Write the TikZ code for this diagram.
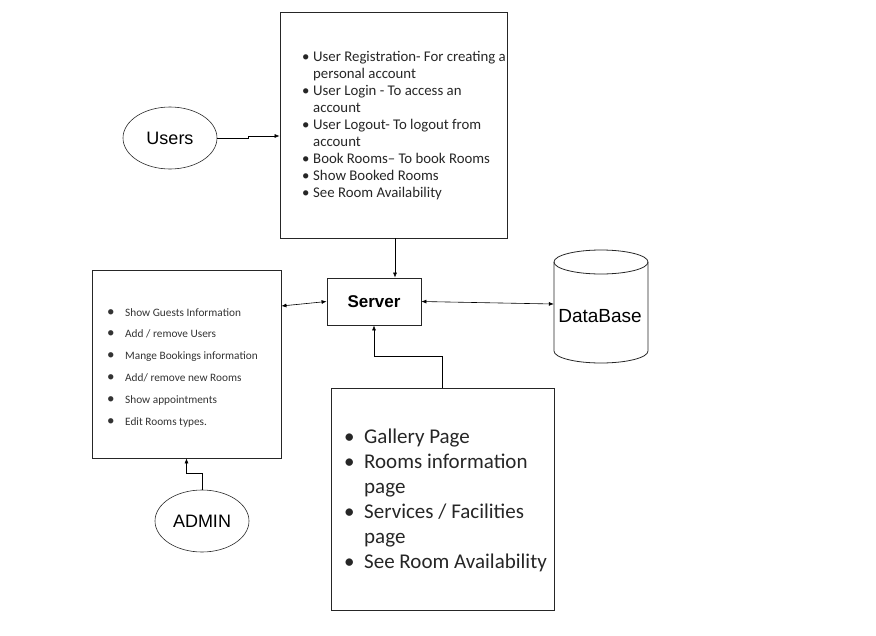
\documentclass[tikz,border=0pt]{standalone}
\usepackage{fontspec}
\setmainfont{Carlito}
\newfontfamily\arialf{Liberation Sans}
\usetikzlibrary{arrows.meta,calc,shapes.geometric}
\newcommand{\bl}[1]{\makebox[#1][l]{•}}
\newcommand{\nb}[1]{\makebox[#1][l]{}}
\begin{document}
\begin{tikzpicture}[x=1pt,y=-1pt,
  box/.style={draw=black!85,line width=0.8pt,inner sep=0pt},
  oval/.style={draw=black!85,line width=0.6pt,ellipse,inner sep=0pt},
  arr/.style={line width=0.6pt,-{Latex[length=5pt,width=4pt]}},
  darr/.style={line width=0.6pt,{Latex[length=5pt,width=4pt]}-{Latex[length=5pt,width=4pt]}},
  lbl/.style={font=\arialf\fontsize{18}{20}\selectfont}]
\useasboundingbox (0,0) rectangle (876,635);
% boxes
\node[box,minimum width=227pt,minimum height=226pt] (topbox) at (393.5,125) {};
\node[anchor=west,align=left,inner sep=0pt,text=black!85,font=\fontsize{14.8}{17}\selectfont] (toptext) at (302,126)
 {\bl{11pt}User Registration- For creating a\\
  \nb{11pt}personal account\\
  \bl{11pt}User Login - To access an\\
  \nb{11pt}account\\
  \bl{11pt}User Logout- To logout from\\
  \nb{11pt}account\\
  \bl{11pt}Book Rooms– To book Rooms\\
  \bl{11pt}Show Booked Rooms\\
  \bl{11pt}See Room Availability};
\node[box,minimum width=189pt,minimum height=188pt] (lbox) at (186.5,364) {};
\node[anchor=west,align=left,inner sep=0pt,text=black!80,font=\fontsize{11.3}{21.8}\selectfont] (ltext) at (107,367.5)
 {{\fontsize{15}{15}\selectfont\bl{18pt}}Show Guests Information\\
  {\fontsize{15}{15}\selectfont\bl{18pt}}Add / remove Users\\
  {\fontsize{15}{15}\selectfont\bl{18pt}}Mange Bookings information\\
  {\fontsize{15}{15}\selectfont\bl{18pt}}Add/ remove new Rooms\\
  {\fontsize{15}{15}\selectfont\bl{18pt}}Show appointments\\
  {\fontsize{15}{15}\selectfont\bl{18pt}}Edit Rooms types.};
\node[box,minimum width=223pt,minimum height=222pt] (bbox) at (442.5,499) {};
\node[anchor=west,align=left,inner sep=0pt,text=black!85,font=\fontsize{21}{25}\selectfont] (btext) at (344,500.5)
 {\bl{20pt}Gallery Page\\
  \bl{20pt}Rooms information\\
  \nb{20pt}page\\
  \bl{20pt}Services / Facilities\\
  \nb{20pt}page\\
  \bl{20pt}See Room Availability};
\node[box,minimum width=94pt,minimum height=47pt,font=\arialf\bfseries\fontsize{17}{20}\selectfont] (server) at (374,301.5) {Server};
\node[oval,minimum width=94pt,minimum height=62pt,lbl] (users) at (170,138) {Users};
\node[oval,minimum width=94pt,minimum height=62pt,lbl] (admin) at (202,521) {ADMIN};
% database cylinder
\draw[draw=black!85,line width=0.8pt] (554,262) -- (554,351) arc(180:0:47 and 12) -- (648,262) arc(0:-180:47 and 12) -- cycle;
\draw[draw=black!85,line width=0.8pt] (554,262) arc(180:0:47 and 12);
\node[minimum width=94pt,minimum height=113pt,inner sep=0pt] (db) at (601,306.5) {};
\node[lbl,font=\arialf\fontsize{19}{22}\selectfont] (dbtext) at (600,316) {DataBase};
% connectors
\draw[arr] (users.east) -- ++(31,0) -- ++(0,-2) -- ([yshift=-11pt]topbox.west);
\draw[arr] ([xshift=1.5pt]topbox.south) -- ([xshift=21pt]server.north);
\draw[darr] ([yshift=58pt]lbox.east) -- (server.west);
\draw[darr] (server.east) -- ([yshift=2.5pt]db.west);
\draw[arr] (bbox.north) -- ++(0,-31) -| (server.south);
\draw[arr] (admin.north) -- ++(0,-16) -| (lbox.south);
\end{tikzpicture}
\end{document}
